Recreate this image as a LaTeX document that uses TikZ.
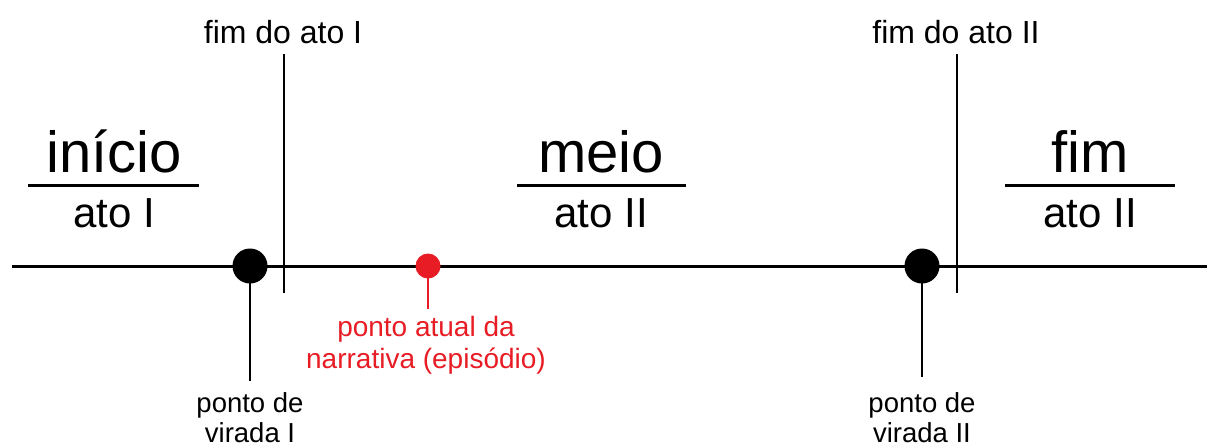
\documentclass[tikz,border=0pt]{standalone}
\usepackage{fontspec}
\setmainfont{Liberation Sans}
\definecolor{accent}{RGB}{232,28,36}
\begin{document}
\begin{tikzpicture}[x=1pt,y=-1pt,
  rule/.style={line width=3pt},
  tick/.style={line width=2.6pt},
  dotmark/.style={circle,fill=black,inner sep=0pt,minimum size=35pt},
  reddot/.style={circle,fill=accent,inner sep=0pt,minimum size=25pt},
  small/.style={font=\fontsize{27.5}{30}\selectfont,inner sep=0pt,align=center},
  toplabel/.style={font=\fontsize{32}{36}\selectfont,inner sep=0pt,anchor=base},
  big/.style={font=\fontsize{58}{64}\selectfont,inner sep=0pt,anchor=base},
  act/.style={font=\fontsize{42}{46}\selectfont,inner sep=0pt,anchor=base}]
\useasboundingbox (0,0) rectangle (1207,445);

% timeline
\coordinate (L) at (12,266);
\coordinate (R) at (1207,266);
\draw[rule] (L) -- (R);

% act boundaries
\coordinate (b1top) at (284,54);
\coordinate (b1bot) at (284,293);
\coordinate (b2top) at (957,54);
\coordinate (b2bot) at (957,293);
\draw[tick] (b1top) -- (b1bot);
\draw[tick] (b2top) -- (b2bot);
\node[toplabel] (end1) at (283,43) {fim do ato I};
\node[toplabel] (end2) at (956,43) {fim do ato II};

% section headings
\node[big] (inicio) at (114,172) {início};
\node[act] (act1) at (114,227) {ato I};
\coordinate (u1a) at (28,185);
\coordinate (u1b) at (199,185);
\draw[rule] (u1a) -- (u1b);

\node[big] (meio) at (601,172) {meio};
\node[act] (act2) at (601,227) {ato II};
\coordinate (u2a) at (517,185);
\coordinate (u2b) at (686,185);
\draw[rule] (u2a) -- (u2b);

\node[big] (fim) at (1090,172) {fim};
\node[act] (act3) at (1090,227) {ato II};
\coordinate (u3a) at (1005,185);
\coordinate (u3b) at (1175,185);
\draw[rule] (u3a) -- (u3b);

% plot points
\node[dotmark] (tp1) at (250,266) {};
\node[dotmark] (tp2) at (922,266) {};
\node[reddot] (now) at (428,266) {};

\coordinate (s1) at (250,381);
\coordinate (s2) at (922,377);
\coordinate (s3) at (428,309);
\draw[tick] (tp1.center) -- (s1);
\draw[tick] (tp2.center) -- (s2);
\draw[tick,accent] (now.center) -- (s3);

\node[small,anchor=north] (lbl1) at (250,392) {ponto de\\virada I};
\node[small,anchor=north] (lbl2) at (922,392) {ponto de\\virada II};
\node[small,anchor=north,text=accent,font=\fontsize{28}{32}\selectfont] (lbl3) at (426,316) {ponto atual da\\narrativa (episódio)};
\end{tikzpicture}
\end{document}
